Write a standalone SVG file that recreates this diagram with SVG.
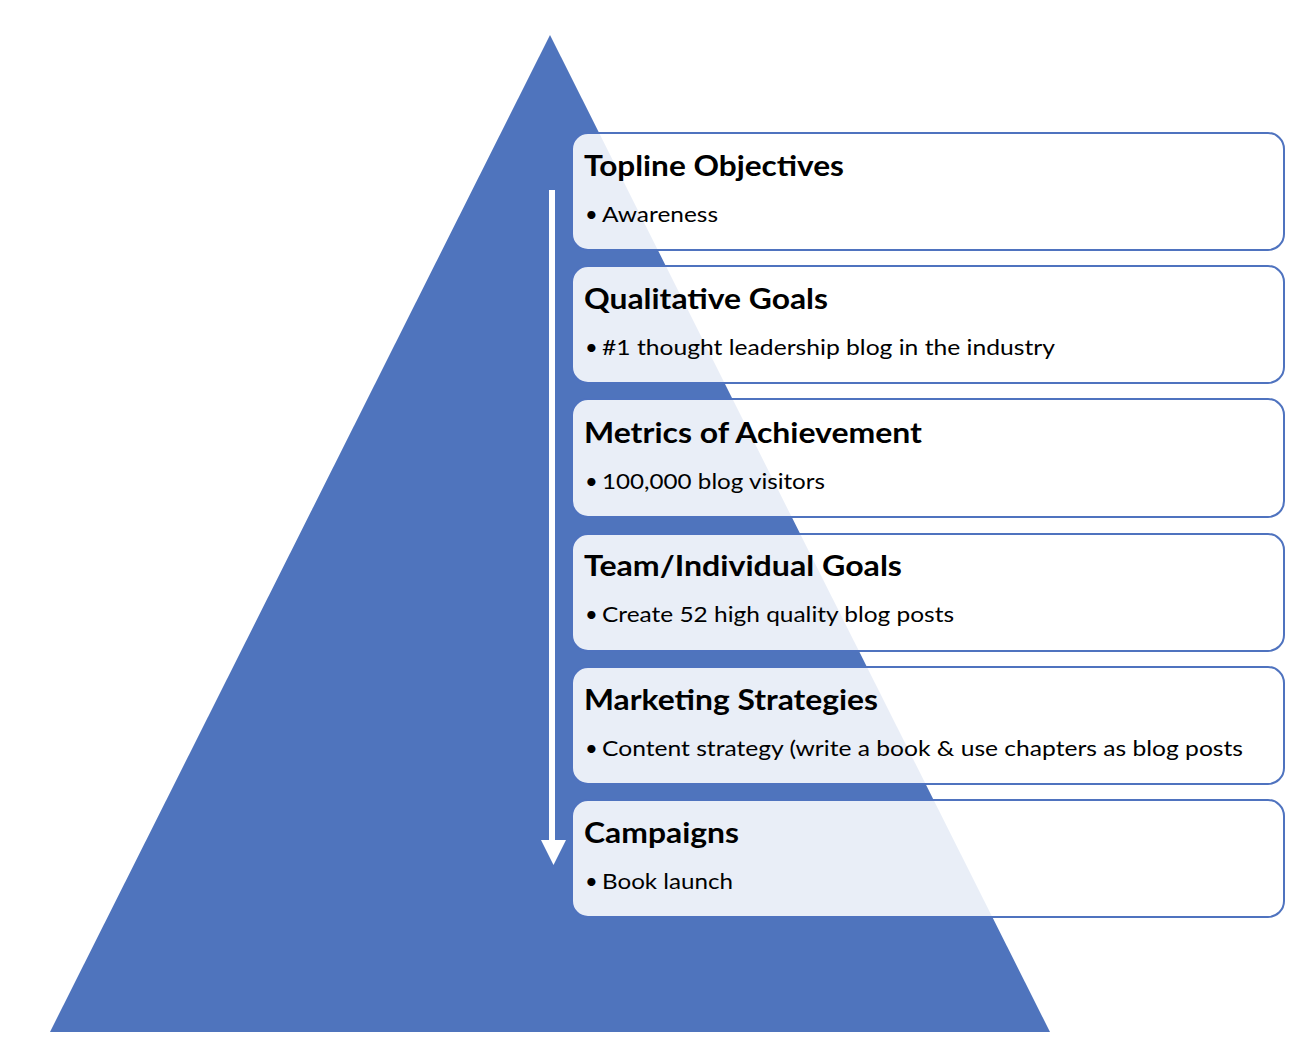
<svg xmlns="http://www.w3.org/2000/svg" width="1310" height="1056" viewBox="0 0 1310 1056">
<style>
.box{fill:#ffffff;fill-opacity:0.88;stroke:#4f73bf;stroke-width:2}
.t{font-family:Lato,"Open Sans",sans-serif;font-weight:bold;font-size:29px;fill:#000}
.b{font-family:Lato,"Open Sans",sans-serif;font-size:22px;fill:#000}
</style>
<rect width="1310" height="1056" fill="#fff"/>
<g id="pyramid"><polygon points="550,35 1050,1032 50,1032" fill="#4f74bd"/></g>
<g id="connectors">
<rect x="549" y="190" width="6" height="652" fill="#fff"/>
<polygon points="541,840 566,840 553.5,865" fill="#fff"/>
</g>
<g id="n1"><rect class="box" x="572" y="133" width="712" height="117" rx="16"/>
<text class="t" x="584" y="176" textLength="260" lengthAdjust="spacingAndGlyphs">Topline Objectives</text>
<text class="b" x="585" y="222">•</text><text class="b" x="602" y="222" textLength="116" lengthAdjust="spacingAndGlyphs">Awareness</text></g>
<g id="n2"><rect class="box" x="572" y="266" width="712" height="117" rx="16"/>
<text class="t" x="584" y="309" textLength="244" lengthAdjust="spacingAndGlyphs">Qualitative Goals</text>
<text class="b" x="585" y="355">•</text><text class="b" x="602" y="355" textLength="453" lengthAdjust="spacingAndGlyphs">#1 thought leadership blog in the industry</text></g>
<g id="n3"><rect class="box" x="572" y="399" width="712" height="118" rx="16"/>
<text class="t" x="584" y="443" textLength="338" lengthAdjust="spacingAndGlyphs">Metrics of Achievement</text>
<text class="b" x="585" y="489">•</text><text class="b" x="602" y="489" textLength="223" lengthAdjust="spacingAndGlyphs">100,000 blog visitors</text></g>
<g id="n4"><rect class="box" x="572" y="534" width="712" height="117" rx="16"/>
<text class="t" x="584" y="576" textLength="318" lengthAdjust="spacingAndGlyphs">Team/Individual Goals</text>
<text class="b" x="585" y="622">•</text><text class="b" x="602" y="622" textLength="352" lengthAdjust="spacingAndGlyphs">Create 52 high quality blog posts</text></g>
<g id="n5"><rect class="box" x="572" y="667" width="712" height="117" rx="16"/>
<text class="t" x="584" y="710" textLength="294" lengthAdjust="spacingAndGlyphs">Marketing Strategies</text>
<text class="b" x="585" y="756">•</text><text class="b" x="602" y="756" textLength="641" lengthAdjust="spacingAndGlyphs">Content strategy (write a book &amp; use chapters as blog posts</text></g>
<g id="n6"><rect class="box" x="572" y="800" width="712" height="117" rx="16"/>
<text class="t" x="584" y="843" textLength="155" lengthAdjust="spacingAndGlyphs">Campaigns</text>
<text class="b" x="585" y="889">•</text><text class="b" x="602" y="889" textLength="131" lengthAdjust="spacingAndGlyphs">Book launch</text></g>
</svg>
